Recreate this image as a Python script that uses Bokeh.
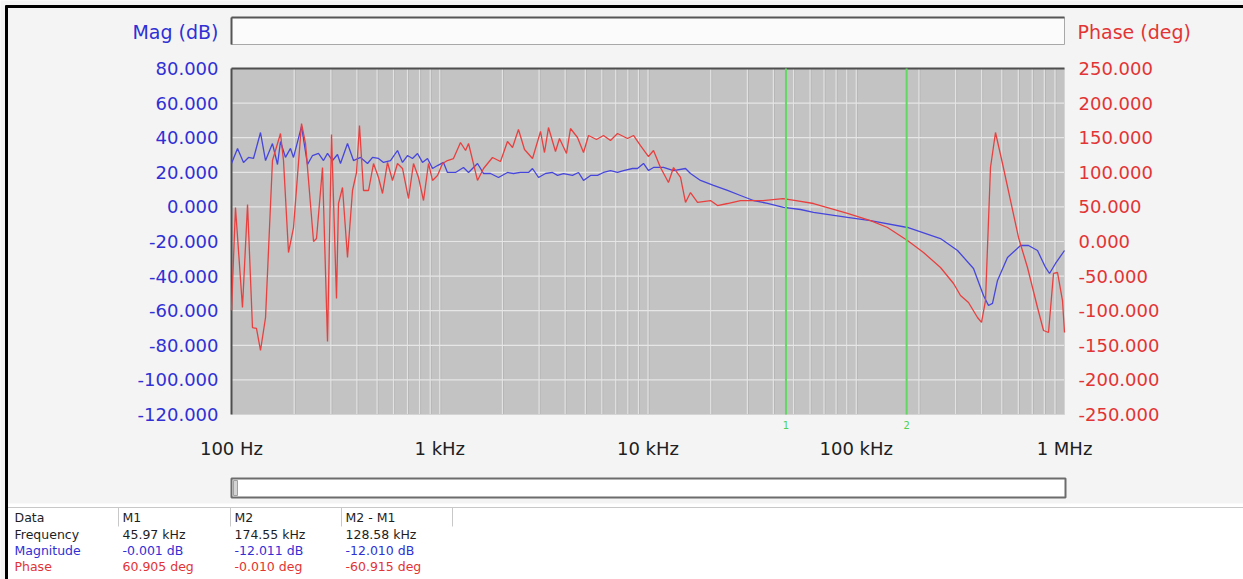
from bokeh.plotting import figure
from bokeh.models import Range1d, LinearScale
from bokeh.core.properties import value
from bokeh.embed import file_html
from bokeh.resources import INLINE

# ---------------- data ----------------
mag_freq = [100, 106.9, 114.2, 120.7, 127.5, 137.8, 145.7, 157.3, 166.3, 171.9, 181.6, 192.0,
            198.5, 216.9, 231.7, 244.9, 261.6, 276.5, 289.1, 305.5, 322.8, 333.7, 360.6, 385.3,
            416.4, 450.0, 475.6, 508.0, 537.0, 580.1, 626.8, 662.4, 700.1, 739.9, 782.0, 826.4,
            873.4, 923.1, 975.4, 1042, 1089, 1190, 1300, 1375, 1518, 1623, 1753, 1915, 2115,
            2260, 2442, 2669, 2789, 2981, 3220, 3478, 3677, 3929, 4341, 4639, 4901, 5297, 5722,
            6113, 6605, 7137, 7627, 8426, 8905, 9515, 10055, 10627, 11230, 11870, 13260, 15140,
            16000, 17870, 20630, 24090, 27810, 32110, 37490, 44740, 54000, 62330, 90780, 117100,
            176200, 253800, 306400, 365600, 408300, 431600, 451100, 476800, 532400, 615100,
            671600, 741900, 810600, 847300, 905300, 1000000]
mag_db = [25.1, 33.8, 25.7, 28.6, 28.0, 43.0, 26.8, 36.6, 24.5, 37.8, 28.6, 33.8, 28.6, 46.5,
          24.5, 29.7, 30.9, 26.8, 30.9, 26.8, 30.3, 25.1, 36.6, 26.8, 28.6, 25.1, 28.6, 28.0,
          25.7, 26.8, 32.6, 25.7, 29.7, 28.0, 30.9, 25.7, 28.0, 22.2, 23.9, 25.7, 19.9, 19.9,
          22.8, 19.9, 25.1, 19.3, 19.3, 17.0, 19.9, 19.3, 19.9, 19.9, 22.2, 17.0, 19.3, 19.9,
          18.2, 19.3, 18.2, 19.9, 15.3, 18.2, 18.2, 19.9, 21.0, 19.9, 21.0, 22.2, 22.2, 25.1,
          21.0, 22.8, 22.8, 22.8, 21.0, 22.2, 19.3, 15.3, 12.4, 9.5, 6.6, 3.7, 2.0, -0.3, -1.5,
          -3.2, -6.1, -7.9, -11.9, -18.3, -25.2, -35.6, -51.2, -57.0, -55.8, -42.5, -29.2,
          -22.3, -22.3, -25.2, -35.0, -38.5, -32.7, -25.2]

phase_freq = [100, 104.5, 112.9, 119.4, 126.1, 131.8, 137.8, 145.7, 157.3, 171.9, 177.7, 187.8,
              198.5, 216.9, 226.7, 247.7, 256.0, 273.5, 289.1, 302.2, 319.3, 326.4, 341.2,
              360.6, 381.1, 398.3, 411.7, 430.4, 455.0, 480.8, 508.0, 531.1, 561.3, 593.1,
              626.8, 662.4, 707.9, 748.1, 790.7, 835.6, 883.1, 923.1, 975.4, 1031, 1089, 1164,
              1258, 1330, 1375, 1518, 1623, 1792, 1957, 2115, 2236, 2388, 2553, 2789, 3047,
              3184, 3328, 3596, 3758, 4061, 4245, 4587, 4901, 5181, 5658, 6113, 6605, 7137,
              7973, 8519, 9204, 10055, 10627, 11480, 12540, 13260, 14330, 15140, 16000, 17290,
              19960, 21560, 24090, 27810, 35660, 44490, 51370, 62330, 90780, 117100, 141300,
              176200, 210300, 253800, 293100, 316700, 345900, 382100, 399500, 417500, 441200,
              466300, 503800, 550600, 601300, 664200, 741900, 793000, 838000, 885500, 925600,
              978100, 1000000]
phase_deg = [-99.7, 49.1, -95.4, 53.5, -124.3, -125.7, -157.5, -109.8, 117.0, 156.1, 117.0,
             -15.9, 20.2, 170.5, 141.6, 0.0, 4.3, 106.9, -144.5, 154.6, -82.4, 54.9, 78.0,
             -23.1, 73.7, 99.7, 167.6, 73.7, 73.7, 112.7, 92.5, 69.4, 114.2, 88.2, 112.7, 105.5,
             62.1, 112.7, 92.5, 59.2, 112.7, 88.2, 95.4, 112.7, 117.0, 119.9, 143.1, 131.5,
             141.6, 88.2, 105.5, 121.4, 115.6, 144.5, 135.8, 161.8, 132.9, 119.9, 159.0, 128.6,
             164.7, 130.1, 148.8, 127.2, 163.3, 150.3, 128.6, 153.2, 147.4, 153.2, 146.0, 156.1,
             148.8, 153.2, 138.7, 122.8, 131.5, 106.9, 85.3, 106.9, 92.5, 56.4, 70.8, 56.4,
             59.2, 52.0, 54.9, 59.2, 59.2, 62.1, 59.2, 54.9, 40.5, 30.3, 20.2, 1.4, -15.9,
             -37.6, -60.7, -78.0, -88.1, -109.8, -117.0, -85.3, 106.9, 157.5, 112.7, 59.2, 5.8,
             -37.6, -95.4, -128.6, -131.5, -46.2, -44.8, -85.3, -131.5]

mag_ticks = [-120, -100, -80, -60, -40, -20, 0, 20, 40, 60, 80]
phase_ticks = [-250, -200, -150, -100, -50, 0, 50, 100, 150, 200, 250]
freq_ticks = [100, 1000, 10000, 100000, 1000000]
freq_tick_labels = ["100 Hz", "1 kHz", "10 kHz", "100 kHz", "1 MHz"]

marker_freq = [45970, 174550]
marker_ids = ["1", "2"]

table_header = ["Data", "M1", "M2", "M2 - M1"]
row_labels = ["Frequency", "Magnitude", "Phase"]
table_freq = ["45.97 kHz", "174.55 kHz", "128.58 kHz"]
table_mag = ["-0.001 dB", "-12.011 dB", "-12.010 dB"]
table_phase = ["60.905 deg", "-0.010 deg", "-60.915 deg"]

# ---------------- layout / styles ----------------
W, H = 1243, 579
X0, X1, Y0, Y1 = 231, 1064, 68, 414          # data area on the canvas (px)
BLUE_TXT = "#3030d4"
RED_TXT = "#e23434"
BLUE_LINE = "#4646dc"
RED_LINE = "#e8403f"
GREEN = "#62d862"
FONT = value("DejaVu Sans")

F_MIN, F_MAX = freq_ticks[0], freq_ticks[-1]
M_MIN, M_MAX = mag_ticks[0], mag_ticks[-1]
P_MIN, P_MAX = phase_ticks[0], phase_ticks[-1]

dpp = 4.0 / (X1 - X0)
k = (M_MAX - M_MIN) / (Y1 - Y0)
k2 = (P_MAX - P_MIN) / (Y1 - Y0)

p = figure(width=W, height=H, x_axis_type="log",
           x_range=Range1d(10 ** (2 - X0 * dpp), 10 ** (6 + (W - X1) * dpp)),
           y_range=Range1d(M_MIN - (H - Y1) * k, M_MAX + Y0 * k),
           x_axis_location=None, y_axis_location=None, min_border=0,
           output_backend="svg", toolbar_location=None,
           background_fill_color="#f4f4f4", border_fill_color="#f4f4f4",
           outline_line_color=None)
p.grid.visible = False
p.extra_y_ranges = {"phase": Range1d(P_MIN - (H - Y1) * k2, P_MAX + Y0 * k2),
                    "py": Range1d(H, 0)}
p.extra_x_ranges = {"px": Range1d(0, W)}
p.extra_x_scales = {"px": LinearScale()}
p.extra_y_scales = {"phase": LinearScale(), "py": LinearScale()}

PX = dict(x_range_name="px", y_range_name="py")

# ---- panel parts (canvas pixel coordinates) ----
p.quad(left=[5], right=[W], top=[503], bottom=[H], fill_color="#ffffff", line_color=None, **PX)
p.quad(left=[X0], right=[X1], top=[17], bottom=[44], fill_color="#fbfbfb",
       line_color="#a8a8a8", line_width=1, **PX)
p.segment(x0=[X0, X0], y0=[17, 17], x1=[X1, X0], y1=[17, 44], line_color="#555555",
          line_width=2, **PX)

# ---- data area ----
p.quad(left=[F_MIN], right=[F_MAX], bottom=[M_MIN], top=[M_MAX], fill_color="#c3c3c3",
       line_color=None)
minor = [m * 10 ** e for e in range(2, 6) for m in range(2, 10)]
vgrid = minor + freq_ticks[1:-1]
n = len(vgrid)
p.segment(x0=[g * 10 ** dpp for g in vgrid], y0=[M_MIN] * n, x1=[g * 10 ** dpp for g in vgrid],
          y1=[M_MAX] * n, line_color="#b4b4b4", line_width=1)
p.segment(x0=vgrid, y0=[M_MIN] * n, x1=vgrid, y1=[M_MAX] * n, line_color="#e2e2e2",
          line_width=1.2)
hg = mag_ticks[1:-1]
p.segment(x0=[F_MIN] * len(hg), y0=hg, x1=[F_MAX] * len(hg), y1=hg, line_color="#e6e6e6",
          line_width=1.2)
# frame edges
p.segment(x0=[F_MIN, F_MAX], y0=[M_MIN, M_MIN], x1=[F_MAX, F_MAX], y1=[M_MIN, M_MAX],
          line_color="#d4d4d4", line_width=1)
p.segment(x0=[F_MIN, F_MIN], y0=[M_MAX, M_MIN], x1=[F_MAX, F_MIN], y1=[M_MAX, M_MAX],
          line_color="#4e4e4e", line_width=2)

# curves
p.line(mag_freq, mag_db, line_color=BLUE_LINE, line_width=1.3)
p.line(phase_freq, phase_deg, y_range_name="phase", line_color=RED_LINE, line_width=1.3)

# markers
nm = len(marker_freq)
p.segment(x0=marker_freq, y0=[M_MIN] * nm, x1=marker_freq, y1=[M_MAX] * nm,
          line_color=GREEN, line_width=2)
p.text(x=marker_freq, y=[M_MIN] * nm, text=marker_ids, y_offset=10, text_color="#50d050",
       text_font=FONT, text_font_size=value("10px"), text_align="center",
       text_baseline="middle")

# tick labels
p.text(x=[F_MIN] * len(mag_ticks), y=mag_ticks, text=["%.3f" % v for v in mag_ticks],
       x_offset=-13, text_align="right", text_baseline="middle", text_color=BLUE_TXT,
       text_font=FONT, text_font_size=value("18px"))
p.text(x=[F_MAX] * len(phase_ticks), y=phase_ticks, text=["%.3f" % v for v in phase_ticks],
       y_range_name="phase", x_offset=14, text_align="left", text_baseline="middle",
       text_color=RED_TXT, text_font=FONT, text_font_size=value("18px"))
p.text(x=freq_ticks, y=[M_MIN] * len(freq_ticks), text=freq_tick_labels, y_offset=34,
       text_align="center", text_baseline="middle", text_color="#202020",
       text_font=FONT, text_font_size=value("18px"))

# axis titles
p.text(x=[218], y=[31], text=["Mag (dB)"], text_align="right", text_baseline="middle",
       text_color=BLUE_TXT, text_font=FONT, text_font_size=value("19px"), **PX)
p.text(x=[1077], y=[31], text=["Phase (deg)"], text_align="left", text_baseline="middle",
       text_color=RED_TXT, text_font=FONT, text_font_size=value("19px"), **PX)

# scroll bar
p.quad(left=[X0], right=[X1 + 1], top=[478], bottom=[497], fill_color="#ffffff",
       line_color="#6c6c6c", line_width=2, **PX)
p.quad(left=[233], right=[237], top=[480], bottom=[495], fill_color="#d4d4d4",
       line_color="#a0a0a0", line_width=1, **PX)

# table
p.segment(x0=[5], y0=[507], x1=[W], y1=[507], line_color="#c8c8c8", line_width=1, **PX)
seps = [118, 230, 341, 452]
p.segment(x0=seps, y0=[507] * 4, x1=seps, y1=[526] * 4, line_color="#c8c8c8", line_width=1,
          **PX)
col_x = [14, 122, 234, 345]
head_y = 517
row_y = [534, 550, 566]
row_colors = ["#1e1e1e", BLUE_TXT, RED_TXT]
TS = value("12.5px")
p.text(x=col_x, y=[head_y] * 4, text=table_header, text_color="#1e1e1e", text_font=FONT,
       text_font_size=TS, text_baseline="middle", **PX)
p.text(x=[col_x[0]] * 3, y=row_y, text=row_labels, text_color=row_colors, text_font=FONT,
       text_font_size=TS, text_baseline="middle", **PX)
for vals, yy, c in zip((table_freq, table_mag, table_phase), row_y, row_colors):
    p.text(x=col_x[1:], y=[yy] * 3, text=vals, text_color=c, text_font=FONT,
           text_font_size=TS, text_baseline="middle", **PX)

# outer black frame (top and left edges)
p.segment(x0=[5, 6], y0=[6, 5], x1=[W, 6], y1=[6, H], line_color="#000000", line_width=3, **PX)

open("out.html", "w").write(file_html(p, INLINE))
